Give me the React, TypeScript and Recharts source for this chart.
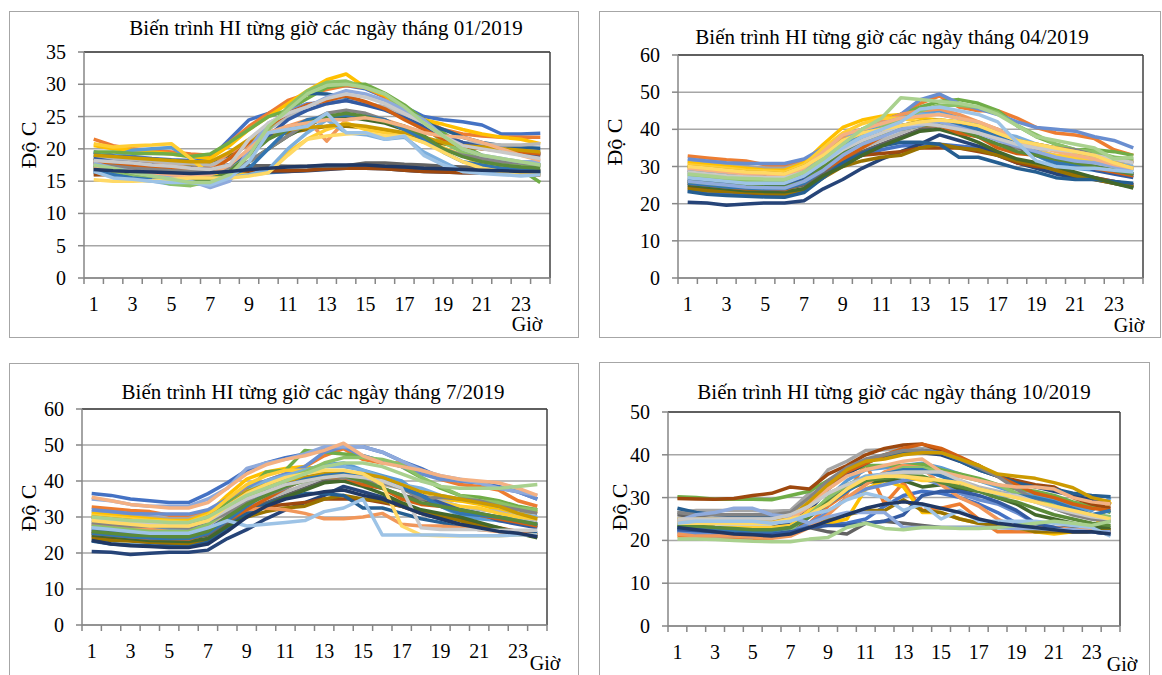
import { LineChart, Line, XAxis, YAxis, CartesianGrid, ReferenceLine } from "recharts";

const FONT = "Liberation Serif, Times New Roman, serif";

// Excel default series palette (base, darker, lighter ...)
const PALETTE = [
  "#4472C4", "#ED7D31", "#A5A5A5", "#FFC000", "#5B9BD5", "#70AD47",
  "#264478", "#9E480E", "#636363", "#997300", "#255E91", "#43682B",
  "#698ED0", "#F1975A", "#B7B7B7", "#FFCD33", "#7CAFDD", "#8CC168",
  "#335AA1", "#D26012", "#848484", "#CC9A00", "#3275B1", "#5A8A39",
  "#8FAADC", "#F4B183", "#C9C9C9", "#FFD966", "#9DC3E6", "#A9D18E",
  "#203864",
];

const HOURS = [1, 2, 3, 4, 5, 6, 7, 8, 9, 10, 11, 12, 13, 14, 15, 16, 17, 18, 19, 20, 21, 22, 23, 24];
const HOUR_LABELS = [1, 3, 5, 7, 9, 11, 13, 15, 17, 19, 21, 23];

const JAN_TICKS = [0, 5, 10, 15, 20, 25, 30, 35];
const APR_TICKS = [0, 10, 20, 30, 40, 50, 60];
const JUL_TICKS = [0, 10, 20, 30, 40, 50, 60];
const OCT_TICKS = [0, 10, 20, 30, 40, 50];

// HI theo giờ, mỗi mảng = 1 ngày
const JAN_DAYS = [
  [19.5, 19, 18.8, 18.5, 18.3, 18.2, 18.5, 21.5, 24.5, 25.5, 27, 28.5, 29.5, 29.8, 29.3, 28, 26.5, 25, 24.5, 24.2, 23.7, 22.3, 22.3, 22.4],
  [21.5, 20.5, 20, 19.8, 19.5, 19.2, 19, 21, 23.5, 25.5, 27.5, 28.5, 29.2, 29.8, 29.5, 28, 26.3, 24.5, 23, 22.3, 22, 21.8, 21.8, 21.8],
  [16, 16.2, 16.3, 16.4, 16.5, 16.6, 16.8, 17, 17.2, 17.2, 17.1, 17.2, 17.3, 17.4, 17.7, 17.7, 17.5, 17.3, 17.1, 16.8, 16.6, 16.5, 16.4, 16.3],
  [20.5, 20, 19.8, 19.5, 19.2, 18.8, 18.5, 20.5, 23, 25, 27, 29, 30.7, 31.6, 29.5, 28.3, 26, 24.5, 23.8, 23, 22.3, 21.8, 21.5, 20.8],
  [19.5, 18.8, 19.8, 20, 20.2, 18.5, 17, 16.5, 16, 16.3, 16.5, 16.7, 17, 17.2, 17.1, 17, 16.8, 16.7, 16.6, 16.5, 16.5, 16.4, 16.3, 16.3],
  [19.5, 19.5, 19.3, 19.3, 19.2, 18.8, 19.2, 21, 23, 25, 26, 27.8, 29.5, 30, 30, 28.6, 26.8, 24.5, 22.5, 20.5, 19, 18, 16.8, 14.8],
  [16.5, 16.3, 16.2, 16.2, 16.1, 16, 16, 16.2, 16.3, 16.4, 16.5, 16.6, 16.8, 17, 17, 16.9, 16.7, 16.5, 16.4, 16.3, 16.3, 16.2, 16.2, 16.1],
  [16, 16, 16, 16, 16, 16, 16.1, 16.3, 16.5, 16.6, 16.6, 16.7, 16.9, 17, 17, 16.9, 16.7, 16.5, 16.4, 16.3, 16.3, 16.2, 16, 15.9],
  [18, 17.8, 17.6, 17.5, 17.3, 17.2, 17.2, 17.5, 17.4, 17.4, 17.3, 17.3, 17.3, 17.4, 17.8, 17.8, 17.6, 17.5, 17.3, 17.2, 17.1, 17, 16.8, 16.6],
  [18.5, 18.3, 18.2, 18, 17.8, 17.6, 17.5, 19, 21, 22, 22.5, 23, 23.5, 23.5, 23.3, 22.8, 22.3, 21.5, 20.8, 20.3, 20, 19.8, 19.5, 19.3],
  [19, 18.8, 18.6, 18.4, 18.2, 18, 17.8, 18.5, 21, 23.5, 26, 28.6, 28.5, 28, 27, 26.3, 25, 24, 23, 21.8, 21, 20.5, 20.2, 20.1],
  [17, 16.8, 16.5, 16.3, 16.1, 16, 15.8, 16.2, 18, 20, 22, 23.5, 25, 25, 24.5, 24, 23, 22, 20, 19, 18.5, 18, 17.5, 17.5],
  [18, 17.6, 17.3, 17, 16.8, 16.5, 16.2, 17, 20, 23.5, 25.8, 27, 27.2, 27.5, 27, 26.5, 25, 23.5, 22, 21, 20.3, 19.8, 19.5, 19.5],
  [18.2, 18, 17.8, 17.6, 17.5, 17, 17, 19.5, 20.5, 22.5, 23.5, 24.5, 21.2, 24.5, 25, 24.5, 23.5, 22.5, 22, 21, 20.5, 20, 19.5, 19],
  [18.8, 18.5, 18.3, 18.1, 17.8, 17.7, 17.5, 18.5, 21, 23, 25, 26, 27, 27.5, 27, 26.5, 25, 23.5, 21.5, 21, 20.8, 20.6, 20.6, 20.8],
  [20.8, 20.3, 20.5, 20.6, 20.8, 18.5, 16, 16.2, 16, 16.5, 19.5, 21.5, 23, 24, 23, 22.5, 22, 21, 20.2, 19, 17.5, 17, 16.8, 16.5],
  [17, 16, 15.3, 15, 14.5, 14.5, 14.5, 15.5, 16, 16.8, 20, 22.5, 24.5, 22.5, 22.2, 21.5, 21.8, 19.5, 18, 16.5, 16.5, 16.3, 16, 16.3],
  [17.5, 16.5, 16, 15.3, 14.5, 14.3, 15, 16.5, 20, 23, 26.5, 29, 30.3, 30.5, 29.5, 28.5, 26, 23.5, 21, 19.5, 18.5, 18, 17.5, 17.5],
  [18.5, 18, 17.8, 17.5, 17.2, 17, 16.8, 17.5, 19.5, 22, 24.5, 26, 27, 27.5, 26.8, 26, 24.8, 23.5, 22, 21, 20.3, 19.7, 19.3, 19],
  [17.8, 17.5, 17.3, 17, 16.8, 16.6, 16.5, 18.5, 21, 23.5, 25.5, 26.8, 27.5, 28.2, 27.3, 26.2, 24.5, 23, 21.5, 20.5, 20, 19.7, 19.5, 19.2],
  [17.5, 17.3, 17, 16.8, 16.6, 16.5, 16.5, 17, 18, 20, 22, 24, 25.5, 26, 25.5, 24.5, 23, 21.5, 20, 19, 18.5, 18, 17.8, 17.5],
  [19, 18.8, 18.6, 18.4, 18.2, 18, 18, 19.5, 21.5, 22.5, 23, 23.3, 23.5, 23.8, 23.5, 23, 22.5, 21.8, 21, 20.5, 20.3, 20, 19.8, 19.5],
  [16.5, 16, 15.5, 15.2, 15, 15, 15.5, 16, 17, 20, 23, 24.5, 25, 25.2, 25, 24.5, 23, 21.5, 19.5, 18, 17.5, 17, 16.8, 16.5],
  [17.2, 16.8, 16.3, 15.8, 15.3, 15, 15.2, 16.5, 19, 21.5, 23, 24, 25, 25.5, 25, 24.2, 23.5, 22, 20, 18.8, 18, 17.5, 17.2, 17],
  [17.8, 17, 16.5, 16, 15.5, 15, 14, 15, 20, 24, 25.5, 26.5, 28, 29, 28.5, 27.5, 26, 24.5, 22, 20, 19, 18.5, 18, 18],
  [17, 16.7, 16.5, 16.3, 16, 15.8, 16, 17.5, 20, 22.5, 23.5, 24, 24.5, 24.5, 24.8, 24.3, 23.5, 22.5, 22, 21.8, 21, 20, 19, 18.2],
  [18.2, 18, 17.8, 17.5, 17.3, 17, 16.8, 17.5, 21.5, 24, 25.5, 26.5, 27.8, 28.5, 28, 27, 25.5, 24, 22, 20.5, 20, 19.5, 19, 18.5],
  [15.2, 15, 15, 15.1, 15.3, 15.5, 15.5, 15.5, 15.8, 16.3, 19, 21.5, 22, 22.3, 22.5, 22, 22, 21, 19.5, 18, 17, 16.5, 16.3, 16],
  [16.5, 15.5, 15.3, 15, 14.8, 14.8, 14.4, 15.5, 18, 22.5, 23, 23.5, 25.5, 22.5, 22.5, 21.5, 22, 19, 17.5, 16.5, 16.2, 16, 15.8, 16],
  [17.5, 17, 16.3, 15.8, 15.3, 14.8, 14.8, 16, 19, 23.5, 26, 28.5, 29.8, 30, 29.5, 28.5, 26.5, 24, 22, 20, 19, 18.5, 18, 17.5],
  [16.8, 16.6, 16.5, 16.4, 16.3, 16.2, 16.3, 16.5, 16.8, 17, 17.2, 17.3, 17.5, 17.5, 17.5, 17.3, 17.2, 17, 16.9, 16.8, 16.7, 16.6, 16.5, 16.5],
];

const APR_DAYS = [
  [23.5, 23, 22.5, 22.3, 22, 22, 23.5, 27, 31, 33, 34.5, 35.5, 36, 36, 35.5, 35, 33, 31, 30, 28.5, 28, 27, 26, 25],
  [32.8, 32.3, 31.8, 31.5, 30.5, 30, 31.5, 34, 38, 40, 42, 44, 47, 49, 46, 45, 45, 43, 40.5, 39, 38.5, 37.5, 34.5, 33],
  [31.5, 31, 30.5, 30, 29.5, 29.5, 31, 34, 37, 39, 40, 41, 42, 41.5, 41, 40, 38, 36, 35, 34.5, 34, 33.5, 32.5, 31.5],
  [31, 30.5, 30, 29.5, 29, 29, 31, 36, 40.5, 42.5, 43.5, 44, 43, 42.5, 42, 40.5, 38, 36, 35, 34.5, 33.5, 32, 31, 31.5],
  [28, 27.5, 27, 26.5, 26.5, 26.5, 28.5, 32, 36, 39, 41, 43, 44.5, 45, 43, 41.5, 40, 36, 33, 30.5, 29.5, 29, 28.5, 28],
  [30, 29.3, 28.5, 28.2, 28, 28, 30, 34, 37, 40, 42, 44, 46, 47.5, 48, 47, 45, 41, 38, 36, 34.5, 34.5, 34, 33],
  [20.4, 20.2, 19.6, 19.9, 20.2, 20.2, 20.8, 24, 26.5, 29.5, 32, 34, 36, 38.5, 37, 35.5, 33.5, 31, 29.5, 28, 27, 26.5, 25.5, 24.5],
  [24.5, 24, 23.5, 23, 22.5, 22.5, 24, 28, 31, 33, 33.5, 34, 35, 35, 35, 34, 33, 31, 30, 29.5, 28, 27, 26, 25],
  [26, 25.3, 25, 24.5, 24.2, 24, 25, 28, 31.5, 34, 36, 38, 40, 41, 39.5, 38, 36, 35, 33.5, 32, 31, 30, 28.5, 27.5],
  [24, 23.5, 23.3, 23, 22.8, 22.5, 23.5, 27, 30, 31.5, 32.5, 33, 35, 36, 35, 34.5, 33, 31.5, 30.5, 29, 27.5, 26.5, 25.5, 24.5],
  [23.3, 22.5, 22.2, 22, 21.8, 21.7, 23, 27, 31, 33.5, 35.5, 36.5, 36.5, 36, 32.5, 32.5, 31, 29.5, 28.5, 27, 26.5, 26.5, 26, 25.5],
  [25, 24.5, 24, 23.5, 23.3, 23.2, 24, 27.5, 30, 33, 35.5, 37.5, 39.5, 40, 38.5, 36.5, 34, 32, 31, 30, 28.5, 27, 25.5, 24.2],
  [32, 31.5, 31, 30.8, 30.8, 30.8, 32, 35, 38.5, 40, 42, 44, 48, 49.5, 47, 45.5, 44, 42, 40.5, 40, 39.5, 38, 37, 35],
  [29, 28.5, 28, 27.5, 27, 27, 29, 34, 38, 40, 42, 44, 45, 45.5, 44, 42, 40, 37, 36, 35, 34, 33, 32, 31],
  [27, 26.5, 26, 25.5, 25.2, 25, 27, 30, 33, 35, 37, 39, 41, 41, 40, 39, 38, 36, 34.5, 33, 32, 31.5, 30, 29],
  [30.5, 30, 29.5, 29, 28.8, 28.5, 30.5, 35, 39, 41.5, 43, 43, 42, 41.5, 41, 39.5, 38, 35.5, 34, 33, 32.5, 31, 30, 29.5],
  [29, 28.5, 28, 27.8, 27.5, 27.5, 29, 33, 37, 40, 41.5, 43, 44, 44, 43, 41, 39, 38, 36, 35, 34, 33, 31, 30],
  [27.5, 27, 26.5, 26, 26, 26, 28, 31.5, 35, 38, 40.5, 42.5, 45, 46.5, 46.5, 46, 44.5, 41, 38.5, 36, 34.5, 34, 32.5, 32],
  [26.5, 26, 25.5, 25.2, 25, 25, 26.5, 30, 34, 37, 39, 41, 42, 42.5, 41, 40, 38.5, 36, 34, 32, 31, 29, 28, 27],
  [25.5, 25, 24.5, 24, 24, 23.8, 25.5, 29, 32, 35, 38, 40.5, 41, 41, 39, 38, 35, 33.5, 33, 31.5, 30.5, 29.5, 28.5, 27.5],
  [28.5, 28, 27.5, 27.5, 27.2, 27, 29, 31, 34, 36, 38, 40.5, 41.5, 41, 40, 39.5, 38, 35, 35.5, 35, 34.5, 33, 32, 31],
  [30, 29.5, 29, 28.5, 28.3, 28, 30, 33, 37, 39, 40, 41, 42, 42.5, 42, 41, 39, 37, 36, 35, 34, 33, 31, 29.5],
  [25.5, 25, 24.5, 24.2, 24, 24, 25.5, 29, 33, 36.5, 38.5, 40.5, 41.5, 42, 41, 40, 38, 36, 33, 31, 30.5, 30, 29, 28],
  [26, 25.5, 25, 24.8, 24.5, 24.5, 26, 30, 33.5, 36, 38.5, 40, 41, 41.5, 40, 38, 36, 34, 33, 32, 31, 30, 29, 28],
  [26, 25.5, 25, 24.5, 24.3, 24.2, 26, 29, 33, 36, 38, 40, 41, 42, 40.5, 39, 37, 35.5, 34, 32.5, 31.5, 31, 30, 29],
  [29.5, 29, 28.5, 28, 28, 27.5, 29.5, 34, 38.5, 40, 41.5, 43, 43.5, 44, 43, 42, 40, 37, 35.5, 34, 33, 32, 30.5, 29.5],
  [28.5, 28, 27.5, 27.2, 27, 27, 28.5, 31, 34.5, 37, 39, 41, 41.5, 41, 40, 39, 37.5, 36, 35, 34.5, 34, 33, 32, 31],
  [30, 29.5, 29, 28.5, 28.3, 28, 30, 33, 37, 39, 40, 41, 42, 42.5, 42, 41, 39, 37, 36, 35, 34, 33, 31, 29.5],
  [27, 26.5, 26, 25.5, 25.5, 25.5, 27.5, 31, 35, 38, 40, 42, 45.5, 46, 45, 44, 42, 36.5, 31.5, 30, 29.5, 29.5, 29, 28.5],
  [28, 27.5, 27, 26.8, 26.6, 26.5, 28.5, 32, 36, 40, 43, 48.5, 48, 47.5, 47, 46, 44, 41, 38, 37, 36, 35, 32, 32.5],
];

const JUL_DAYS = [
  [36.5, 36, 35, 34.5, 34, 34, 36.5, 39.5, 43, 45, 46.5, 47.5, 49, 49.5, 49.5, 48, 45.5, 43.5, 41, 40, 39.5, 38.5, 37, 35],
  [32.8, 32.3, 31.8, 31.5, 30.5, 30, 31.5, 34, 38, 40, 42, 44, 47, 49, 46, 45, 45, 43, 40.5, 39, 38.5, 37.5, 34.5, 33],
  [31.5, 31, 30.5, 30, 29.5, 29.5, 31, 34, 37, 39, 40, 41, 42, 41.5, 41, 40, 38, 36, 35, 34.5, 34, 33.5, 32.5, 31.5],
  [31, 30.5, 30, 29.5, 29, 29, 31, 36, 40.5, 42.5, 43.5, 44, 43, 42.5, 42, 40.5, 38, 36, 35, 34.5, 33.5, 32, 31, 31.5],
  [28, 27.5, 27, 26.5, 26.5, 26.5, 28.5, 32, 36, 39, 41, 43, 44.5, 45, 43, 41.5, 40, 36, 33, 30.5, 29.5, 29, 28.5, 28],
  [30, 29.3, 28.5, 28.2, 28, 28, 30, 34, 37, 42.5, 43, 48.5, 48, 47.5, 47, 45.5, 44, 41, 38, 36, 35.5, 34.5, 33, 32],
  [20.4, 20.2, 19.6, 19.9, 20.2, 20.2, 20.8, 24, 26.5, 29.5, 32, 34, 36, 38.5, 37, 35.5, 33.5, 31, 29.5, 28, 27, 26.5, 25.5, 24.5],
  [24.5, 24, 23.5, 23, 22.5, 22.5, 24, 28, 31, 33, 33.5, 34, 35, 35, 35, 34, 33, 31, 30, 29.5, 28, 27, 26, 25],
  [26, 25.3, 25, 24.5, 24.2, 24, 25, 28, 31.5, 34, 36, 38, 40, 41, 39.5, 38, 36, 35, 33.5, 32, 31, 30, 28.5, 27.5],
  [24, 23.5, 23.3, 23, 22.8, 22.5, 23.5, 27, 30, 31.5, 32.5, 33, 35, 36, 35, 34.5, 33, 31.5, 30.5, 29, 27.5, 26.5, 25.5, 24.5],
  [23.3, 22.5, 22.2, 22, 21.8, 21.7, 23, 27, 31, 33.5, 35.5, 36.5, 36.5, 36, 32.5, 32.5, 31, 29.5, 28.5, 27, 26.5, 26.5, 26, 25.5],
  [25, 24.5, 24, 23.5, 23.3, 23.2, 24, 27.5, 30, 33, 35.5, 37.5, 39.5, 40, 38.5, 36.5, 34, 32, 31, 30, 28.5, 27, 25.5, 24.2],
  [32, 31.5, 31, 30.8, 30.8, 30.8, 32, 35, 38.5, 40, 42, 44, 48, 49.5, 47, 45.5, 44, 42, 40.5, 40, 39.5, 38, 37, 35],
  [28, 27.5, 27, 26.5, 26, 26, 27.5, 30, 32, 32.5, 32, 31, 29.5, 29.5, 30, 31, 28, 27.5, 27.5, 27, 26.5, 26, 25.5, 25],
  [27, 26.5, 26, 25.5, 25.2, 25, 27, 30, 33, 35, 37, 39, 41, 41, 40, 39, 38, 36, 34.5, 33, 32, 31.5, 30, 29],
  [30.5, 30, 29.5, 29, 28.8, 28.5, 30.5, 35, 39, 41.5, 43, 43, 42, 41.5, 41, 39.5, 38, 35.5, 34, 33, 32.5, 31, 30, 29.5],
  [29, 28.5, 28, 27.8, 27.5, 27.5, 29, 33, 37, 40, 41.5, 43, 44, 44, 43, 41, 39, 38, 36, 35, 34, 33, 31, 30],
  [27.5, 27, 26.5, 26, 26, 26, 28, 31.5, 35, 38, 40.5, 42.5, 45, 46.5, 46.5, 46, 44.5, 41, 38.5, 36, 34.5, 34, 32.5, 32],
  [26.5, 26, 25.5, 25.2, 25, 25, 26.5, 30, 34, 37, 39, 41, 42, 42.5, 41, 40, 38.5, 36, 34, 32, 31, 29, 28, 27],
  [25.5, 25, 24.5, 24, 24, 23.8, 25.5, 29, 32, 35, 38, 40.5, 41, 41, 39, 38, 35, 33.5, 33, 31.5, 30.5, 29.5, 28.5, 27.5],
  [28.5, 28, 27.5, 27.5, 27.2, 27, 29, 31, 34, 36, 38, 40.5, 41.5, 41, 40, 39.5, 38, 35, 35.5, 35, 34.5, 33, 32, 31],
  [30, 29.5, 29, 28.5, 28.3, 28, 30, 33, 37, 39, 40, 41, 42, 42.5, 42, 41, 39, 37, 36, 35, 34, 33, 31, 29.5],
  [25.5, 25, 24.5, 24.2, 24, 24, 25.5, 29, 33, 36.5, 38.5, 40.5, 41.5, 42, 41, 40, 38, 36, 33, 31, 30.5, 30, 29, 28],
  [26, 25.5, 25, 24.8, 24.5, 24.5, 26, 30, 33.5, 36, 38.5, 40, 41, 41.5, 40, 38, 36, 34, 33, 32, 31, 30, 29, 28],
  [35, 34.5, 33.5, 33, 33, 33, 35, 38, 43.5, 45, 46, 47.5, 49.5, 49.5, 49.5, 48, 45.5, 43, 41.5, 40.5, 39.5, 38, 37, 36],
  [35.5, 34.5, 33.5, 33, 32.5, 32.5, 34, 38, 42, 44.5, 46, 47, 48.5, 50.5, 47, 45, 44, 43, 41.5, 40.5, 40, 39.5, 38, 36],
  [29.5, 29, 28.5, 28, 27.8, 27.5, 29, 32, 35, 37, 39, 40, 41, 41.5, 41, 40, 38, 27, 26.5, 26.5, 26.5, 26.3, 26.3, 26.3],
  [29, 28.5, 28, 27.5, 27.5, 27.5, 29, 33, 36.5, 39, 41, 42, 43, 43, 42, 39, 27.5, 25, 24.8, 24.8, 24.8, 24.8, 25, 25],
  [27, 26.5, 26, 25.5, 25.5, 25.5, 27, 29, 27.5, 28, 28.5, 29, 31.5, 32.5, 35, 25, 25, 25, 25, 24.8, 24.8, 24.8, 25, 25],
  [30, 29.5, 29, 28.8, 28.5, 28.5, 30, 33, 36, 38, 40, 42, 44, 45, 45, 44, 42, 40, 38.5, 38, 38, 38, 38.5, 39],
  [23.5, 22.5, 22, 21.8, 21.5, 21.5, 22.5, 26, 30, 33, 35, 36, 37, 37.5, 36, 35, 33, 31, 29.5, 28, 27, 26, 25.5, 24.5],
];

const OCT_DAYS = [
  [22.5, 22, 22, 21.5, 21.3, 21.3, 22, 23.5, 23.8, 24, 25, 28, 30.5, 31.5, 31, 30, 28.5, 26.5, 24, 23, 22.5, 22, 22, 21.5],
  [21, 21, 20.5, 20.5, 20.5, 20.5, 22.5, 24, 28, 31, 38, 28.5, 33.5, 27, 27.5, 28.5, 25, 22, 22, 22, 22, 22, 22, 22],
  [26.5, 27, 27, 27, 27, 26.8, 27, 31, 36.5, 38.5, 41, 41.2, 41.5, 41.5, 41, 39, 37, 35, 33, 30, 27.5, 26, 25, 24.5],
  [23, 22.5, 22, 22, 22, 22, 22.5, 23, 24, 25, 32, 34, 32.5, 26.5, 26.5, 25, 24, 24, 23, 22, 21.5, 22, 22, 29],
  [22, 21.5, 21, 21, 20.8, 21, 21.5, 25.5, 30, 34, 36.5, 37, 37.5, 38, 37, 35.5, 34, 32.5, 31, 30.5, 29.5, 28, 27, 30],
  [30.2, 30, 29.6, 29.6, 29.6, 29.5, 30.5, 31.5, 34, 36, 37.5, 37.5, 37.5, 37.8, 36.5, 35.5, 34.5, 33, 32, 31.5, 30.5, 29, 28, 26.5],
  [24, 23.5, 23, 23, 23, 23, 24, 27, 32, 35.5, 38, 40, 40.5, 40.5, 40, 38.5, 36.5, 35, 33.5, 32.5, 31.5, 30.5, 29.5, 28.5],
  [29.8, 29.7, 29.6, 29.8, 30.5, 31, 32.5, 32, 35.5, 37.5, 40, 41.5, 42.3, 42.5, 41, 39, 37.5, 35, 34, 33, 32.5, 30, 28.5, 27.5],
  [26, 25.5, 25, 25, 25, 25, 25, 23, 22, 21.5, 24, 24.5, 24, 23.5, 23, 23, 23, 23, 23, 23, 23, 23, 23, 22.5],
  [23, 22.5, 22, 22, 22, 22, 22.5, 24, 25, 26, 27, 27, 29.5, 27, 26.5, 25, 24, 23.5, 23, 22, 22, 22, 22, 22.5],
  [27.5, 26.5, 26, 25.8, 25.5, 25.5, 26, 28, 33, 36, 38.5, 39.5, 40.5, 41, 40.5, 38.5, 36.5, 35, 33.5, 32.5, 32, 31, 30.5, 30.2],
  [23, 23, 22.8, 22.5, 22.3, 22.3, 23, 26, 29, 32, 33.5, 34, 34, 32.5, 33, 32, 31.5, 30, 28.5, 26, 25, 24, 23, 23],
  [22, 21.5, 21.5, 21.5, 21.3, 21, 22, 24, 26.5, 30, 32, 33, 34, 34.5, 33, 31, 29.5, 28.5, 26.5, 24, 23, 22.5, 22, 21.5],
  [21.5, 21, 21, 21, 20.8, 20.5, 21, 23, 26, 30, 33, 36, 37.5, 37, 33, 30, 28, 25, 23, 23, 23, 22.5, 22.5, 21.5],
  [25, 25, 25, 25, 25, 25, 26, 28, 31, 33, 34.5, 35, 35.5, 36, 35.5, 34, 32.5, 31.5, 30.5, 29, 27.5, 26.5, 25.5, 25],
  [23.5, 23.5, 23, 23, 23, 23, 23.5, 27, 29, 32, 35, 35, 35, 34, 34, 33, 32, 31, 30, 29, 28, 27, 26, 25],
  [23, 23, 22.5, 22.3, 22, 22, 22.5, 26, 29, 33, 35, 35.5, 36.5, 36.5, 35, 33.5, 32, 30.5, 30.5, 30, 28.5, 27.5, 26, 25.5],
  [23.5, 23, 22.5, 22.5, 22, 22, 22.5, 26, 30, 33, 34.5, 35, 37, 37, 36, 35, 34, 33, 31, 30, 28, 27, 26, 25.5],
  [22.5, 22.3, 22, 21.8, 21.5, 21.5, 22, 23, 23.5, 23.5, 24, 24.5, 26, 30.5, 31.5, 31.5, 30.5, 29, 27, 24, 23, 22, 22, 21.5],
  [24, 24, 24, 24.5, 24.5, 24.5, 25, 28, 33, 36, 38, 40, 41.5, 42.5, 41.5, 39.5, 37.5, 35, 33, 31, 30, 28.5, 27.5, 27],
  [26.5, 26, 26, 26, 26, 26, 26.5, 30, 34, 37, 39, 40, 41, 41, 40.5, 39, 37, 35, 32, 29.5, 27.5, 26, 25, 24.5],
  [25, 25, 25, 24.5, 24.5, 24.5, 25.5, 29, 33, 36.5, 38.5, 39, 40, 40.5, 40.5, 39, 37.5, 35.5, 35, 34.5, 33.5, 32.3, 30, 29],
  [23, 22.8, 22.5, 22.3, 22.2, 22.2, 23, 25.5, 28.5, 31.5, 34, 35.5, 36.5, 36.5, 35, 33.5, 32, 31, 30.5, 30, 29, 27.5, 26, 27],
  [23.5, 23.3, 23, 22.8, 22.5, 22.5, 23, 25.5, 29, 32, 34, 34.5, 35, 35, 33.5, 32.5, 31.5, 30, 29, 27.5, 26, 25, 24, 23.5],
  [24.5, 26, 26.5, 27.5, 27.5, 26, 25.5, 24, 25.5, 26.5, 26.5, 26.5, 23, 23, 23, 23, 23, 23, 22.8, 22.8, 22.5, 22.5, 22, 22],
  [24.5, 24, 24, 24, 24, 24, 25, 28, 32, 35, 36.5, 37.5, 38.5, 39, 36, 35, 34, 33, 32.5, 32.5, 32, 30, 29, 28.5],
  [25, 25, 25, 25, 25, 25, 26, 28, 31, 33, 34.5, 35.5, 36, 36, 36, 34, 32, 31, 30.5, 29, 27.5, 26.5, 25.5, 25],
  [24, 24, 24, 24, 24, 24, 25, 26, 28.5, 32, 34.5, 35, 35, 34.5, 34, 33.5, 32, 31, 30, 29, 28, 27, 26, 25],
  [24, 24.5, 24.5, 24.5, 24.5, 24, 24.5, 26, 27, 29.5, 31, 30, 27, 28.5, 25, 27, 24.5, 24.5, 24.5, 24.5, 24, 23.5, 23, 21],
  [20.3, 20.3, 20.2, 20, 19.8, 19.7, 19.7, 20.3, 20.7, 23, 24, 22.8, 22.5, 23, 23, 22.8, 22.8, 23, 23.5, 24, 24.5, 24, 23.5, 24.5],
  [23, 22.5, 22, 21.5, 21.3, 21, 21.5, 23, 24.5, 26, 27.5, 28.5, 29, 28.5, 27.5, 26.5, 25, 24, 23.5, 23, 22.5, 22, 22, 21.5],
];

// biên các ô (0.5, 1.5 ...) cho vạch chia + nhãn giờ lẻ
const X_TICKS = [...HOURS.map((h) => h - 0.5), 24.5, ...HOUR_LABELS];

type Rect = { l: number; t: number; r: number; b: number };
type Pt = { x: number; y: number };

function buildRows(days: number[][]) {
  return HOURS.map((h, i) => {
    const row: Record<string, number> = { hour: h };
    days.forEach((d, j) => {
      row[`d${j}`] = d[i];
    });
    return row;
  });
}

function HourTick(props: any) {
  const { x, y, payload } = props;
  const v = payload.value as number;
  if (v % 1 !== 0) {
    return <line x1={x} x2={x} y1={y} y2={y + 6} stroke="#868686" strokeWidth={1.5} />;
  }
  return (
    <text
      x={x}
      y={y + 26}
      textAnchor="middle"
      dominantBaseline="central"
      fontSize={20}
      style={{ fontFamily: FONT }}
      fill="#000"
    >
      {v}
    </text>
  );
}

function YTick(props: any) {
  const { x, y, payload } = props;
  return (
    <text x={x} y={y} textAnchor="end" dominantBaseline="central" fontSize={20} style={{ fontFamily: FONT }} fill="#000">
      {payload.value}
    </text>
  );
}

function Label({ pos, text, size = 21, rotate = false }: { pos: Pt; text: string; size?: number; rotate?: boolean }) {
  return (
    <div
      style={{
        position: "absolute",
        left: pos.x,
        top: pos.y,
        transform: `translate(-50%, -50%)${rotate ? " rotate(-90deg)" : ""}`,
        whiteSpace: "nowrap",
        fontSize: size,
        lineHeight: 1,
        fontFamily: FONT,
        color: "#000",
      }}
    >
      {text}
    </div>
  );
}

function Panel({
  box, plot, title, titlePos, yLabelPos, gioPos, yTicks, days,
}: {
  box: Rect; plot: Rect; title: string; titlePos: Pt; yLabelPos: Pt; gioPos: Pt; yTicks: number[]; days: number[][];
}) {
  const rows = buildRows(days);
  const yMax = yTicks[yTicks.length - 1];
  const AXIS_W = 70;
  const TOP = 10;
  const RIGHT = 10;
  const XH = 50;

  return (
    <>
      <div
        style={{
          position: "absolute",
          left: box.l,
          top: box.t,
          width: box.r - box.l,
          height: box.b - box.t,
          border: "1px solid #A6A6A6",
          boxSizing: "border-box",
        }}
      />
      <Label pos={titlePos} text={title} />
      <Label pos={yLabelPos} text="Độ C" size={22} rotate />
      <Label pos={gioPos} text="Giờ" size={20} />
      <div style={{ position: "absolute", left: plot.l - AXIS_W, top: plot.t - TOP }}>
        <LineChart
          width={plot.r - plot.l + AXIS_W + RIGHT}
          height={plot.b - plot.t + TOP + XH}
          data={rows}
          margin={{ top: TOP, right: RIGHT, left: 0, bottom: 0 }}
        >
          <CartesianGrid vertical={false} stroke="#A6A6A6" strokeWidth={1.5} />
          <XAxis
            dataKey="hour"
            type="number"
            domain={[0.5, 24.5]}
            ticks={X_TICKS}
            interval={0}
            height={XH}
            tickSize={0}
            tickMargin={0}
            tickLine={false}
            axisLine={{ stroke: "#868686", strokeWidth: 1.5 }}
            tick={(p: any) => <HourTick {...p} />}
          />
          <YAxis
            type="number"
            domain={[0, yMax]}
            ticks={yTicks}
            interval={0}
            width={AXIS_W}
            tickSize={6}
            tickMargin={12}
            axisLine={{ stroke: "#868686", strokeWidth: 1.5 }}
            tickLine={{ stroke: "#868686", strokeWidth: 1.5 }}
            tick={(p: any) => <YTick {...p} />}
          />
          <ReferenceLine y={yMax} stroke="#404040" strokeWidth={1.5} />
          <ReferenceLine x={24.5} stroke="#404040" strokeWidth={1.5} />
          {days.map((_, j) => (
            <Line
              key={j}
              type="linear"
              dataKey={`d${j}`}
              stroke={PALETTE[j % PALETTE.length]}
              strokeWidth={3.5}
              strokeLinejoin="round"
              dot={false}
              activeDot={false}
              isAnimationActive={false}
            />
          ))}
        </LineChart>
      </div>
    </>
  );
}

export default function App() {
  return (
    <div
      style={{
        position: "absolute",
        left: 0,
        top: 0,
        width: 1162,
        height: 675,
        overflow: "hidden",
        background: "#fff",
        fontFamily: FONT,
      }}
    >
      <Panel
        box={{ l: 9, t: 11, r: 579, b: 338 }}
        plot={{ l: 84, t: 52, r: 550, b: 278 }}
        title="Biến trình HI từng giờ các ngày tháng 01/2019"
        titlePos={{ x: 326, y: 28 }}
        yLabelPos={{ x: 29, y: 145 }}
        gioPos={{ x: 527, y: 324 }}
        yTicks={JAN_TICKS}
        days={JAN_DAYS}
      />
      <Panel
        box={{ l: 599, t: 11, r: 1161, b: 338 }}
        plot={{ l: 678, t: 55, r: 1143, b: 278 }}
        title="Biến trình HI từng giờ các ngày tháng 04/2019"
        titlePos={{ x: 892, y: 37 }}
        yLabelPos={{ x: 615, y: 142 }}
        gioPos={{ x: 1129, y: 325 }}
        yTicks={APR_TICKS}
        days={APR_DAYS}
      />
      <Panel
        box={{ l: 9, t: 363, r: 579, b: 700 }}
        plot={{ l: 82, t: 409, r: 547, b: 625 }}
        title="Biến trình HI từng giờ các ngày tháng 7/2019"
        titlePos={{ x: 313, y: 392 }}
        yLabelPos={{ x: 29, y: 508 }}
        gioPos={{ x: 545, y: 663 }}
        yTicks={JUL_TICKS}
        days={JUL_DAYS}
      />
      <Panel
        box={{ l: 599, t: 362, r: 1150, b: 700 }}
        plot={{ l: 668, t: 412, r: 1120, b: 626 }}
        title="Biến trình HI từng giờ các ngày tháng 10/2019"
        titlePos={{ x: 894, y: 392 }}
        yLabelPos={{ x: 620, y: 507 }}
        gioPos={{ x: 1122, y: 664 }}
        yTicks={OCT_TICKS}
        days={OCT_DAYS}
      />
    </div>
  );
}
